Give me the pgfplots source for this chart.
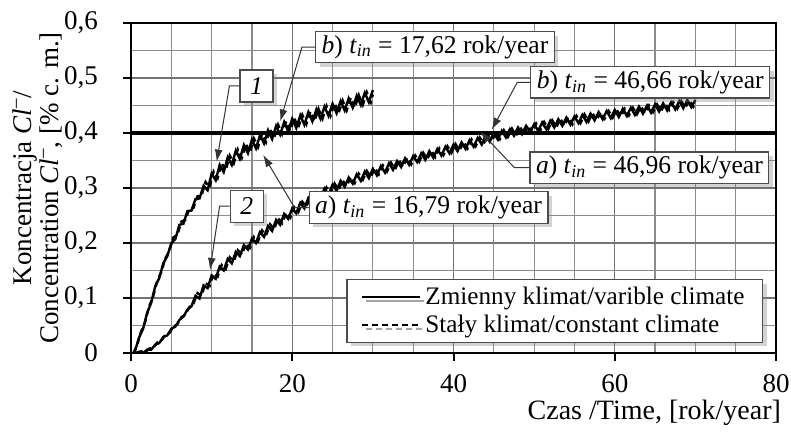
\documentclass[border=0pt]{standalone}
\usepackage{pgfplots}
\pgfplotsset{compat=1.18}
\usepackage{pgfplotstable}
\usepackage{fontspec}
\setmainfont{Liberation Serif}
\usetikzlibrary{shadows,arrows.meta,calc}

\pgfplotstableread{
t s td d
0.3 0.000 0.3 0.000
0.5 0.004 0.75 0.014
1 0.028 1.25 0.039
1.5 0.044 1.75 0.056
2 0.073 2.25 0.085
2.5 0.091 2.75 0.103
3 0.121 3.25 0.131
3.5 0.136 3.75 0.147
4 0.163 4.25 0.172
4.5 0.176 4.75 0.185
5 0.200 5.25 0.210
5.5 0.207 5.75 0.215
6 0.233 6.25 0.239
6.5 0.235 6.75 0.242
7 0.258 7.25 0.263
7.5 0.259 7.75 0.264
8 0.280 8.25 0.285
8.5 0.281 8.75 0.286
9 0.304 9.25 0.311
9.5 0.296 9.75 0.301
10 0.326 10.25 0.330
10.5 0.314 10.75 0.318
11 0.342 11.25 0.345
11.5 0.329 11.75 0.332
12 0.356 12.25 0.359
12.5 0.342 12.75 0.345
13 0.368 13.25 0.370
13.5 0.353 13.75 0.355
14 0.378 14.25 0.380
14.5 0.363 14.75 0.365
15 0.388 15.25 0.390
15.5 0.372 15.75 0.374
16 0.396 16.25 0.398
16.5 0.381 16.75 0.383
17 0.405 17.25 0.407
17.5 0.389 17.75 0.391
18 0.413 18.25 0.415
18.5 0.397 18.75 0.398
19 0.420 19.25 0.421
19.5 0.403 19.75 0.404
20 0.426 20.25 0.427
20.5 0.409 20.75 0.410
21 0.432 21.25 0.433
21.5 0.415 21.75 0.416
22 0.438 22.25 0.439
22.5 0.421 22.75 0.421
23 0.443 23.25 0.444
23.5 0.426 23.75 0.426
24 0.448 24.25 0.449
24.5 0.431 24.75 0.431
25 0.453 25.25 0.454
25.5 0.436 25.75 0.436
26 0.458 26.25 0.459
26.5 0.441 26.75 0.441
27 0.463 27.25 0.464
27.5 0.446 27.75 0.446
28 0.468 28.25 0.469
28.5 0.451 28.75 0.451
29 0.473 29.25 0.474
29.5 0.456 29.75 0.456
30 0.478 30 0.470
}\curveone

\pgfplotstableread{
t s td d
0.5 0.000 0.75 0.000
1 0.002 1.25 0.003
1.5 0.000 1.75 0.001
2 0.006 2.25 0.008
2.5 0.006 2.75 0.009
3 0.015 3.25 0.019
3.5 0.018 3.75 0.022
4 0.029 4.25 0.033
4.5 0.032 4.75 0.036
5 0.044 5.25 0.048
5.5 0.048 5.75 0.052
6 0.060 6.25 0.065
6.5 0.066 6.75 0.070
7 0.079 7.25 0.084
7.5 0.085 7.75 0.090
8 0.104 8.25 0.109
8.5 0.099 8.75 0.104
9 0.123 9.25 0.127
9.5 0.118 9.75 0.122
10 0.141 10.25 0.145
10.5 0.135 10.75 0.139
11 0.157 11.25 0.160
11.5 0.150 11.75 0.153
12 0.171 12.25 0.174
12.5 0.163 12.75 0.167
13 0.184 13.25 0.187
13.5 0.176 13.75 0.179
14 0.196 14.25 0.199
14.5 0.188 14.75 0.191
15 0.208 15.25 0.211
15.5 0.200 15.75 0.203
16 0.220 16.25 0.223
16.5 0.211 16.75 0.214
17 0.231 17.25 0.234
17.5 0.222 17.75 0.225
18 0.242 18.25 0.245
18.5 0.233 18.75 0.236
19 0.253 19.25 0.255
19.5 0.244 19.75 0.246
20 0.263 20.25 0.265
20.5 0.254 20.75 0.256
21 0.273 21.25 0.275
21.5 0.263 21.75 0.266
22 0.282 22.25 0.284
22.5 0.272 22.75 0.275
23 0.291 23.25 0.293
23.5 0.281 23.75 0.283
24 0.299 24.25 0.301
24.5 0.288 24.75 0.290
25 0.306 25.25 0.308
25.5 0.295 25.75 0.297
26 0.313 26.25 0.314
26.5 0.302 26.75 0.303
27 0.319 27.25 0.320
27.5 0.308 27.75 0.309
28 0.325 28.25 0.326
28.5 0.313 28.75 0.315
29 0.330 29.25 0.331
29.5 0.318 29.75 0.320
30 0.335 30.25 0.336
30.5 0.323 30.75 0.325
31 0.340 31.25 0.341
31.5 0.328 31.75 0.330
32 0.345 32.25 0.346
32.5 0.333 32.75 0.334
33 0.349 33.25 0.350
33.5 0.338 33.75 0.339
34 0.354 34.25 0.355
34.5 0.342 34.75 0.343
35 0.358 35.25 0.359
35.5 0.347 35.75 0.348
36 0.363 36.25 0.364
36.5 0.351 36.75 0.352
37 0.367 37.25 0.368
37.5 0.355 37.75 0.356
38 0.371 38.25 0.372
38.5 0.359 38.75 0.360
39 0.375 39.25 0.376
39.5 0.363 39.75 0.364
40 0.379 40.25 0.380
40.5 0.367 40.75 0.368
41 0.383 41.25 0.384
41.5 0.371 41.75 0.372
42 0.387 42.25 0.388
42.5 0.375 42.75 0.376
43 0.391 43.25 0.392
43.5 0.379 43.75 0.381
44 0.396 44.25 0.397
44.5 0.384 44.75 0.385
45 0.400 45.25 0.401
45.5 0.388 45.75 0.389
46 0.404 46.25 0.405
46.5 0.392 46.75 0.393
47 0.407 47.25 0.408
47.5 0.395 47.75 0.395
48 0.410 48.25 0.411
48.5 0.398 48.75 0.398
49 0.413 49.25 0.414
49.5 0.401 49.75 0.401
50 0.416 50.25 0.417
50.5 0.404 50.75 0.404
51 0.419 51.25 0.420
51.5 0.407 51.75 0.407
52 0.422 52.25 0.423
52.5 0.410 52.75 0.410
53 0.425 53.25 0.426
53.5 0.413 53.75 0.413
54 0.428 54.25 0.429
54.5 0.415 54.75 0.416
55 0.430 55.25 0.431
55.5 0.418 55.75 0.418
56 0.433 56.25 0.434
56.5 0.420 56.75 0.421
57 0.435 57.25 0.436
57.5 0.423 57.75 0.423
58 0.438 58.25 0.438
58.5 0.425 58.75 0.426
59 0.440 59.25 0.440
59.5 0.427 59.75 0.428
60 0.442 60.25 0.442
60.5 0.429 60.75 0.430
61 0.444 61.25 0.444
61.5 0.431 61.75 0.432
62 0.446 62.25 0.446
62.5 0.433 62.75 0.434
63 0.448 63.25 0.448
63.5 0.435 63.75 0.436
64 0.450 64.25 0.450
64.5 0.437 64.75 0.438
65 0.452 65.25 0.452
65.5 0.439 65.75 0.440
66 0.454 66.25 0.454
66.5 0.441 66.75 0.442
67 0.456 67.25 0.456
67.5 0.443 67.75 0.444
68 0.458 68.25 0.458
68.5 0.445 68.75 0.446
69 0.460 69.25 0.460
69.5 0.447 69.75 0.448
70 0.460 70 0.456
}\curvetwo

\tikzset{
  ann/.style={draw=black!70, line width=0.6pt, fill=white,
    drop shadow={shadow xshift=2pt, shadow yshift=-2pt, opacity=0.35},
    inner xsep=3pt, inner ysep=2pt, minimum height=15.5pt,
    font=\fontsize{12.8}{15}\selectfont},
  arr/.style={line width=0.5pt, black!80, -{Latex[length=6pt,width=4pt]}}
}

\begin{document}
\begin{tikzpicture}
\begin{axis}[
  name=ax,
  width=322.5pt, height=165pt, scale only axis,
  xmin=0, xmax=80, ymin=0, ymax=0.6,
  xtick={0,20,40,60,80},
  ytick={0,0.1,0.2,0.3,0.4,0.5,0.6},
  minor xtick={5,10,15,25,30,35,45,50,55,65,70,75},
  minor ytick={0.05,0.15,0.25,0.35,0.45,0.55},
  xmajorgrids=true, ymajorgrids=true, xminorgrids=true, yminorgrids=true,
  grid style={black!55, line width=0.6pt},
  major grid style={black!55, line width=0.6pt},
  minor grid style={black!45, line width=0.6pt},
  tick align=outside, tick pos=left,
  major tick length=4pt, minor tick length=0pt,
  major tick style={black, line width=1pt},
  axis line style={line width=1.3pt},
  font=\fontsize{13.5}{15}\selectfont,
  /pgf/number format/assume math mode=true,
  /pgf/number format/use comma,
  yticklabel style={/pgf/number format/fixed, /pgf/number format/precision=1, xshift=-9pt},
  xticklabel style={yshift=-3pt},
  xlabel={Czas /Time, [rok/year]},
  xlabel style={at={(rel axis cs:1,0)}, anchor=north east, yshift=-20pt, xshift=6pt,
    font=\fontsize{14}{15}\selectfont},
  ylabel={Koncentracja \textit{Cl}\textsuperscript{--}/\\Concentration \textit{Cl}\textsuperscript{--}, [\% c. m.]},
  ylabel style={align=center, font=\fontsize{13.5}{13.5}\selectfont},
  ylabel shift=-6pt,
  legend style={at={(0.98,0.03)}, anchor=south east, draw=black!70, line width=0.6pt,
    fill=white, drop shadow={shadow xshift=2pt, shadow yshift=-2pt, opacity=0.35},
    font=\fontsize{12.6}{15}\selectfont, inner xsep=7pt, inner ysep=1.5pt,
    cells={anchor=west}},
  legend image code/.code={\draw[#1] (0pt,0pt) -- (29pt,0pt);},
]
\addplot[black, line width=1.2pt] table[x=t, y=s] {\curveone};
\addlegendentry{Zmienny klimat/varible climate}
\addplot[black, line width=1.2pt, dash pattern=on 3pt off 2pt] table[x=td, y=d] {\curveone};
\addlegendentry{Stały klimat/constant climate}
\addplot[black, line width=1.2pt, forget plot] table[x=t, y=s] {\curvetwo};
\addplot[black, line width=1.2pt, dash pattern=on 3pt off 2pt, forget plot] table[x=td, y=d] {\curvetwo};
\addplot[black, line width=1.6pt, forget plot] coordinates {(0,0.4) (80,0.4)};

\node[ann] (b1) at (axis cs:37.7,0.556) {\textit{b}) \textit{t}\textsubscript{\textit{in}} = 17,62 rok/year};
\draw[arr] (b1.west) -- ++(-6.5pt,0) -- (axis cs:18.5,0.421);
\node[ann, minimum width=16.5pt, minimum height=16pt, inner sep=1pt] (n1) at (axis cs:15.57,0.4855) {\textit{1}};
\draw[arr] (n1.west) -- ++(-5pt,0) -- (axis cs:10.63,0.348);
\node[ann, minimum width=16.5pt, minimum height=16pt, inner sep=1pt] (n2) at (axis cs:14.35,0.267) {\textit{2}};
\draw[arr] (n2.west) -- ++(-5pt,0) -- (axis cs:9.8,0.151);
\node[ann] (a1) at (axis cs:36.9,0.2645) {\textit{a}) \textit{t}\textsubscript{\textit{in}} = 16,79 rok/year};
\draw[arr] (a1.west) -- ++(-7pt,0) -- (axis cs:16.4,0.36);
\node[ann] (b2) at (axis cs:64.4,0.492) {\textit{b}) \textit{t}\textsubscript{\textit{in}} = 46,66 rok/year};
\draw[arr] (b2.west) -- ++(-6.5pt,0) -- (axis cs:44.75,0.406);
\node[ann] (a2) at (axis cs:64.3,0.337) {\textit{a}) \textit{t}\textsubscript{\textit{in}} = 46,96 rok/year};
\draw[arr] (a2.west) -- ++(-7.5pt,0) -- (axis cs:43.3,0.403);
\end{axis}
\pgfresetboundingbox
\path[use as bounding box] ($(ax.south west)+(-65.5pt,-41.85pt)$) rectangle ($(ax.north east)+(7.5pt,11.5pt)$);
\end{tikzpicture}
\end{document}
